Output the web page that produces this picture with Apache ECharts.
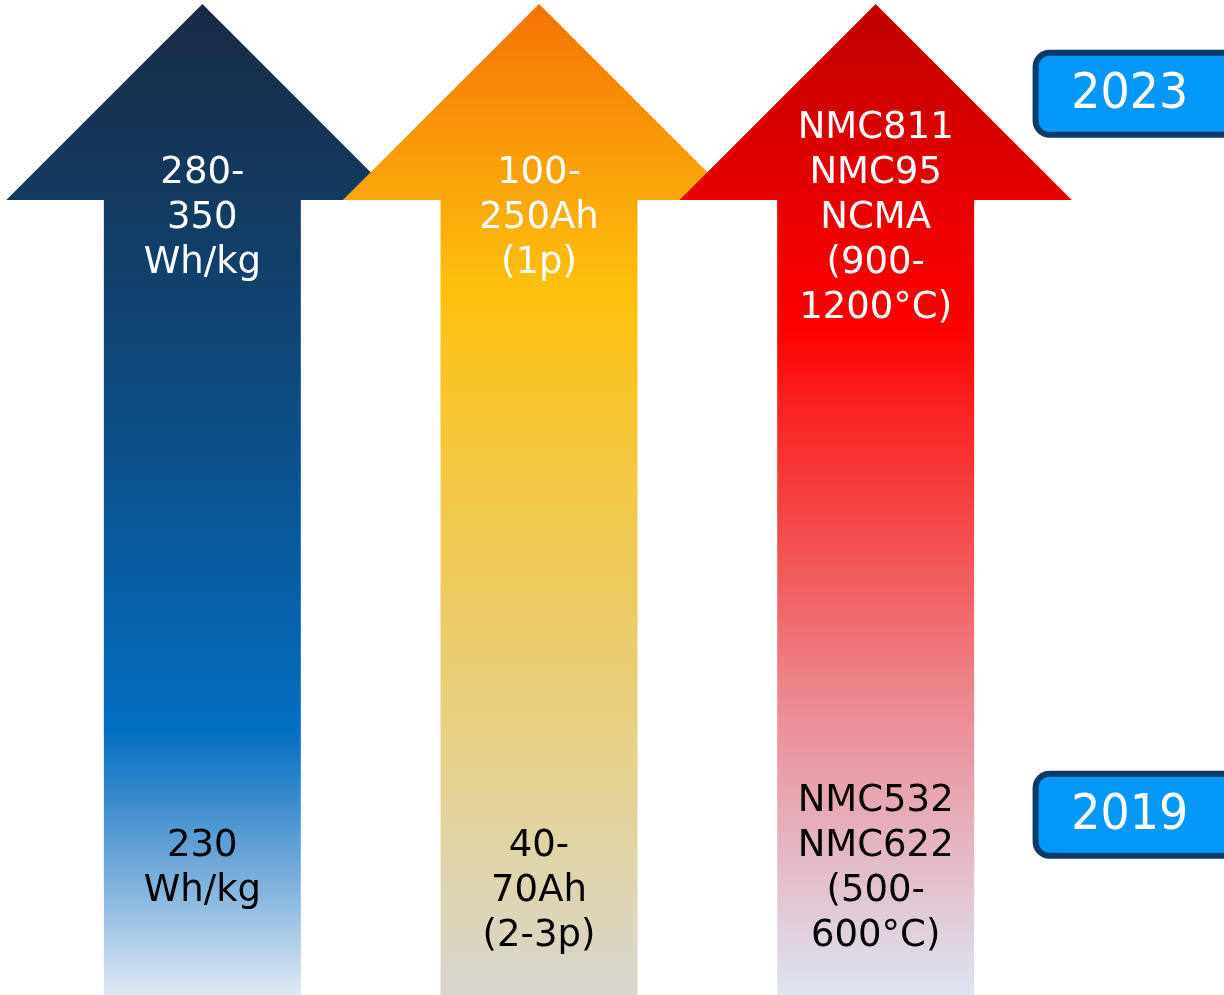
<!DOCTYPE html>
<html>
<head>
<meta charset="utf-8">
<script src="https://cdn.jsdelivr.net/npm/echarts@6/dist/echarts.min.js"></script>
<style>
  html, body { margin: 0; padding: 0; background: #fff; }
  #arrows { width: 1224px; height: 995px; }
</style>
</head>
<body>
<div id="arrows"></div>
<script>
// data
var metrics = ['Energy density', 'Cell capacity', 'Cathode'];
var years = [2019, 2023];
var startLabels = ['230\nWh/kg', '40-\n70Ah\n(2-3p)', 'NMC532\nNMC622\n(500-\n600°C)'];
var endLabels = ['280-\n350\nWh/kg', '100-\n250Ah\n(1p)', 'NMC811\nNMC95\nNCMA\n(900-\n1200°C)'];

// gradient colours per arrow (top -> bottom)
var arrowColors = [
  [[0, '#182a44'], [0.194, '#133a60'], [0.4, '#0d4b80'], [0.6, '#0760a8'], [0.733, '#036fc1'],
   [0.803, '#3a8bcc'], [0.904, '#8db9e0'], [1, '#dfe9f5']],
  [[0, '#f57205'], [0.194, '#fba80b'], [0.289, '#fec10c'], [0.45, '#f4c73c'], [0.6, '#edcb62'],
   [0.753, '#e6d189'], [0.904, '#ded5b4'], [1, '#d7d5cf']],
  [[0, '#c00000'], [0.194, '#e60000'], [0.329, '#ff0000'], [0.4, '#fb2020'], [0.551, '#f35252'],
   [0.702, '#ec8890'], [0.854, '#e4b7c3'], [1, '#dde4f1']]
];

var FONT = '"DejaVu Sans", Verdana, sans-serif';
var chart = echarts.init(document.getElementById('arrows'));

function renderArrow(params, api) {
  var i = params.dataIndex;
  var band = api.size([1, 0])[0];
  var tip = api.coord([i, years[1] + 0.498]);
  var bottom = api.coord([i, years[0] - 1])[1];
  var cx = tip[0];
  var hh = band * 0.5825;   // half width of head
  var sh = band * 0.2925;   // half width of shaft
  var baseY = tip[1] + hh;
  var fromY = api.coord([i, years[0]])[1];
  // cathode label starts one line higher
  var startTop = fromY + 9 - (i === 2 ? 45 : 0);
  var textStyle = function (txt, y, color, va) {
    return {
      type: 'text',
      style: {
        text: txt, x: cx, y: y, fill: color,
        fontSize: 37, fontFamily: FONT, lineHeight: 45,
        align: 'center', verticalAlign: va
      }
    };
  };
  return {
    type: 'group',
    children: [{
      type: 'polygon',
      shape: {
        points: [
          [cx, tip[1]], [cx + hh, baseY], [cx + sh, baseY], [cx + sh, bottom],
          [cx - sh, bottom], [cx - sh, baseY], [cx - hh, baseY]
        ]
      },
      style: {
        fill: new echarts.graphic.LinearGradient(0, 0, 0, 1, arrowColors[i].map(function (s) {
          return { offset: s[0], color: s[1] };
        }))
      }
    },
    textStyle(endLabels[i], baseY + 18, '#ffffff', 'middle'),
    textStyle(startLabels[i], startTop, '#000000', 'top')]
  };
}

function renderYear(params, api) {
  var band = api.size([1, 0])[0];
  var p = api.coord([metrics.length - 1, api.value(1)]);
  var left = p[0] + band * 0.475;
  var tx = p[0] + band * 0.755;
  return {
    type: 'group',
    children: [{
      type: 'rect',
      shape: { x: left, y: p[1] - 41, width: 240, height: 82, r: 14 },
      style: { fill: '#0398f8', stroke: '#0a3b68', lineWidth: 6 }
    }, {
      type: 'text',
      x: tx, y: p[1] + 1,
      scaleY: 1.1,
      style: {
        text: String(api.value(1)), x: 0, y: 0,
        fill: '#ffffff', fontSize: 46, fontFamily: FONT,
        align: 'center', verticalAlign: 'middle'
      }
    }]
  };
}

var option = {
  backgroundColor: '#ffffff',
  animation: false,
  grid: { left: 34, right: 180, top: 0, bottom: 0 },
  xAxis: { type: 'category', data: metrics, show: false },
  yAxis: { type: 'value', min: years[0] - 1, max: years[1] + 0.52, show: false },
  series: [{
    type: 'custom',
    renderItem: renderArrow,
    data: metrics.map(function (m, i) { return [i, years[1]]; })
  }, {
    type: 'custom',
    renderItem: renderYear,
    data: years.map(function (y) { return [metrics.length - 1, y]; })
  }]
};

chart.setOption(option);
</script>
</body>
</html>
